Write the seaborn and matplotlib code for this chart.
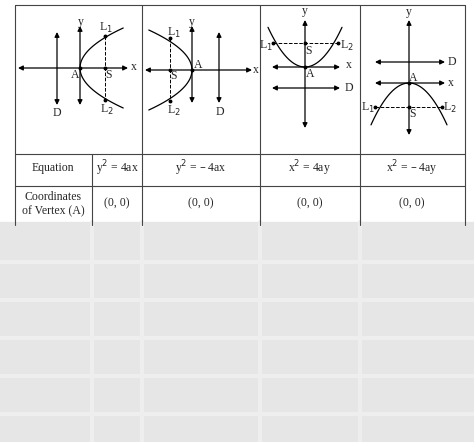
import numpy as np
import matplotlib
matplotlib.use("Agg")
import matplotlib.pyplot as plt
import seaborn as sns

sns.set_style("white")
plt.rcParams['font.family'] = ['Liberation Serif', 'DejaVu Serif']

row_labels = ["Equation", "Coordinates\nof Vertex (A)"]
equations = ["y$^2$ = 4ax", "y$^2$ = – 4ax", "x$^2$ = 4ay", "x$^2$ = – 4ay"]
vertices = ["(0, 0)", "(0, 0)", "(0, 0)", "(0, 0)"]
eq_x = [117, 201, 310, 412]

fig = plt.figure(figsize=(4.74, 4.42), dpi=100)
ax = fig.add_axes([0, 0, 1, 1])
ax.set_xlim(0, 474); ax.set_ylim(442, 0); ax.axis('off')
lw = 0.9
fs = 8.5

L, R, T = 15, 465, 5
for x in [L, 142, 260, 360, R]:
    ax.plot([x, x], [T, 225], color='#444', lw=0.8)
ax.plot([92, 92], [154, 225], color='#444', lw=0.8)
for y in [T, 154, 186]:
    ax.plot([L, R], [y, y], color='#444', lw=0.8)

ax.add_patch(plt.Rectangle((0, 222), 474, 220, color='#e6e6e6', zorder=0))
for y in [262, 300, 338, 376, 414]:
    ax.plot([0, 474], [y, y], color='#eeeeee', lw=3, zorder=1)
for x in [92, 142, 260, 360]:
    ax.plot([x, x], [222, 442], color='#eeeeee', lw=3, zorder=1)

def arr(x0, y0, x1, y1):
    ax.annotate('', xy=(x1, y1), xytext=(x0, y0),
                arrowprops=dict(arrowstyle='<|-|>', lw=lw, color='k',
                                mutation_scale=7, shrinkA=0, shrinkB=0))

def txt(x, y, s, ha='center', va='center'):
    ax.text(x, y, s, ha=ha, va=va, fontsize=fs)

def dot(x, y):
    ax.plot(x, y, 'o', ms=1.8, color='k')

def curve(xs, ys):
    sns.lineplot(x=xs, y=ys, sort=False, estimator=None, ax=ax, color='k', lw=lw)

# Diagram 1
arr(18, 68, 128, 68); txt(134, 67, 'x')
arr(80, 26, 80, 105); txt(81, 22, 'y')
arr(57, 32, 57, 105); txt(57, 113, 'D')
t = np.linspace(-40, 40, 100)
curve(80 + 0.027 * t**2, 68 + t)
ax.plot([105, 105], [36, 100], 'k--', lw=0.7)
dot(105, 36); dot(105, 100); dot(105, 68); dot(80, 68)
txt(106, 28, 'L$_1$'); txt(107, 110, 'L$_2$'); txt(109, 75, 'S'); txt(75, 75, 'A')

# Diagram 2
arr(145, 70, 252, 70); txt(256, 70, 'x')
arr(192, 26, 192, 103); txt(192, 22, 'y')
arr(219, 32, 219, 103); txt(220, 112, 'D')
curve(192 - 0.027 * t**2, 70 + t)
ax.plot([170, 170], [38, 101], 'k--', lw=0.7)
dot(170, 38); dot(170, 101); dot(170, 70); dot(192, 70)
txt(174, 33, 'L$_1$'); txt(174, 111, 'L$_2$'); txt(174, 76, 'S'); txt(198, 65, 'A')

# Diagram 3
arr(305, 20, 305, 128); txt(305, 11, 'y')
arr(272, 67, 340, 67); txt(349, 65, 'x')
arr(272, 88, 340, 88); txt(349, 88, 'D')
u = np.linspace(-37, 37, 100)
curve(305 + u, 67 - 0.029 * u**2)
ax.plot([273, 338], [43, 43], 'k--', lw=0.7)
dot(273, 43); dot(338, 43); dot(305, 43); dot(305, 67)
txt(266, 46, 'L$_1$'); txt(347, 46, 'L$_2$'); txt(309, 51, 'S'); txt(310, 74, 'A')

# Diagram 4
arr(409, 20, 409, 135); txt(409, 18, 'y', va='bottom')
arr(375, 62, 445, 62); txt(452, 62, 'D')
arr(375, 83, 445, 83); txt(451, 83, 'x')
w = np.linspace(-38, 38, 100)
curve(409 + w, 83 + 0.029 * w**2)
ax.plot([375, 442], [107, 107], 'k--', lw=0.7)
dot(375, 107); dot(442, 107); dot(409, 107); dot(409, 83)
txt(368, 108, 'L$_1$'); txt(450, 108, 'L$_2$'); txt(413, 114, 'S'); txt(413, 78, 'A')

txt(53, 168, row_labels[0]); txt(53, 204, row_labels[1])
for x, e, v in zip(eq_x, equations, vertices):
    txt(x, 168, e); txt(x, 203, v)

fig.savefig('out.png', dpi=100)
